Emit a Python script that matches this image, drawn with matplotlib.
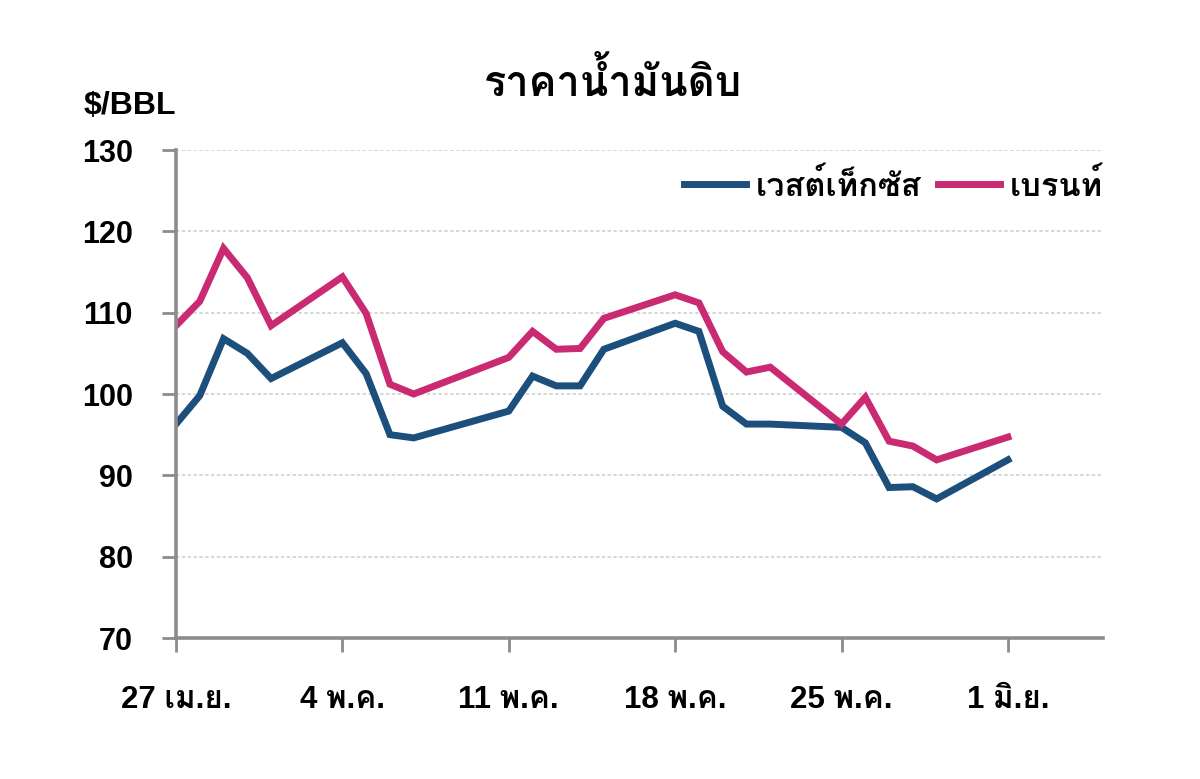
import matplotlib
matplotlib.use("Agg")
import matplotlib.pyplot as plt
import matplotlib.patheffects as pe
from matplotlib import font_manager
from matplotlib.ft2font import FT2Font

# days counted from 27 Apr
days = [0, 1, 2, 3, 4, 7, 8, 9, 10, 14, 15, 16, 17, 18, 21, 22, 23, 24, 25,
        28, 29, 30, 31, 32, 35]
wti = [96.3, 99.8, 106.8, 105.0, 101.9, 106.3, 102.5, 95.0, 94.6, 97.9, 102.2,
       101.0, 101.0, 105.5, 108.7, 107.7, 98.5, 96.3, 96.3,
       95.9, 94.0, 88.5, 88.6, 87.1, 91.9]
brent = [108.4, 111.4, 117.9, 114.3, 108.4, 114.4, 109.9, 101.2, 100.0, 104.5,
         107.7, 105.5, 105.6, 109.3, 112.2, 111.2, 105.2, 102.7, 103.3,
         96.3, 99.6, 94.2, 93.6, 91.9, 94.7]

tick_days = [0, 7, 14, 21, 28, 35]
tick_labels = ["27 เม.ย.", "4 พ.ค.", "11 พ.ค.", "18 พ.ค.", "25 พ.ค.", "1 มิ.ย."]
y_ticks = [70, 80, 90, 100, 110, 120, 130]

title = "ราคาน้ำมันดิบ"
unit = "$/BBL"
names = ["เวสต์เท็กซัส", "เบรนท์"]

prefer = ["Noto Sans Thai", "Noto Sans Thai Looped", "Loma", "Garuda",
          "Waree", "Umpush", "Sawasdee", "Tlwg Typo", "Laksaman"]


def thai_family():
    # installed fonts with Thai glyphs; prefer a sans one that has a bold face
    found = {}
    for f in font_manager.fontManager.ttflist:
        try:
            cmap = FT2Font(f.fname).get_charmap()
        except Exception:
            continue
        if 0x0E23 in cmap and 0x0E49 in cmap:
            w = f.weight if isinstance(f.weight, int) else 400
            if f.weight in ("bold", "heavy", "black"):
                w = 700
            found.setdefault(f.name, set()).add(w)
    for p in prefer:
        if p in found and max(found[p]) >= 600:
            return p, True
    for p in prefer:
        if p in found:
            return p, False
    if found:
        n = next(iter(found))
        return n, max(found[n]) >= 600
    return None, True


th, has_bold = thai_family()
num_fam = ["Liberation Sans", "DejaVu Sans"]
txt_fam = num_fam[:1] + ([th] if th else []) + ["DejaVu Sans"]
# thicken the Thai text a little when the family has no bold face
fx = [] if has_bold else [pe.withStroke(linewidth=1.1, foreground="black")]

fig = plt.figure(figsize=(12, 7.79), dpi=100)
ax = fig.add_axes([176 / 1200, 1 - 638 / 779, 927 / 1200, 488 / 779])

blue = "#1c4f7c"
pink = "#c92a72"
ax.plot(days, wti, color=blue, lw=5, solid_joinstyle="miter", label=names[0])
ax.plot(days, brent, color=pink, lw=5, solid_joinstyle="miter", label=names[1])

ax.set_xlim(0, 39)
ax.set_ylim(70, 130)
ax.set_yticks(y_ticks)
ax.set_xticks(tick_days)
ax.set_yticklabels([str(v) for v in y_ticks], family=num_fam,
                   fontweight="bold", fontsize=22)
ax.set_xticklabels(tick_labels, family=txt_fam, fontweight="bold", fontsize=22.5,
                   path_effects=fx)

ax.grid(axis="y", color="#d0d0d0", linestyle=(0, (2, 1.5)), lw=1.2)
ax.set_axisbelow(True)
for s in ["top", "right"]:
    ax.spines[s].set_visible(False)
for s in ["left", "bottom"]:
    ax.spines[s].set_color("#8c8c8c")
    ax.spines[s].set_linewidth(2.6)
ax.tick_params(axis="y", length=10, width=2, color="#8c8c8c", pad=21)
ax.tick_params(axis="x", length=10, width=2, color="#8c8c8c", pad=24)

leg = ax.legend(loc="center right", bbox_to_anchor=(1.0, 0.926), ncol=2,
                frameon=False, handlelength=1.9, handletextpad=0.3,
                columnspacing=0.5, borderpad=0, borderaxespad=0,
                prop={"family": txt_fam, "weight": "bold", "size": 23.5})
for t in leg.get_texts():
    t.set_path_effects(fx)

fig.text(613 / 1200, 1 - 82 / 779, title, ha="center", va="center",
         family=txt_fam, fontweight="bold", fontsize=30, path_effects=fx)
fig.text(84 / 1200, 1 - 106 / 779, unit, ha="left", va="center",
         family=num_fam, fontweight="bold", fontsize=23)

fig.savefig("out.png", dpi=100, facecolor="white")
